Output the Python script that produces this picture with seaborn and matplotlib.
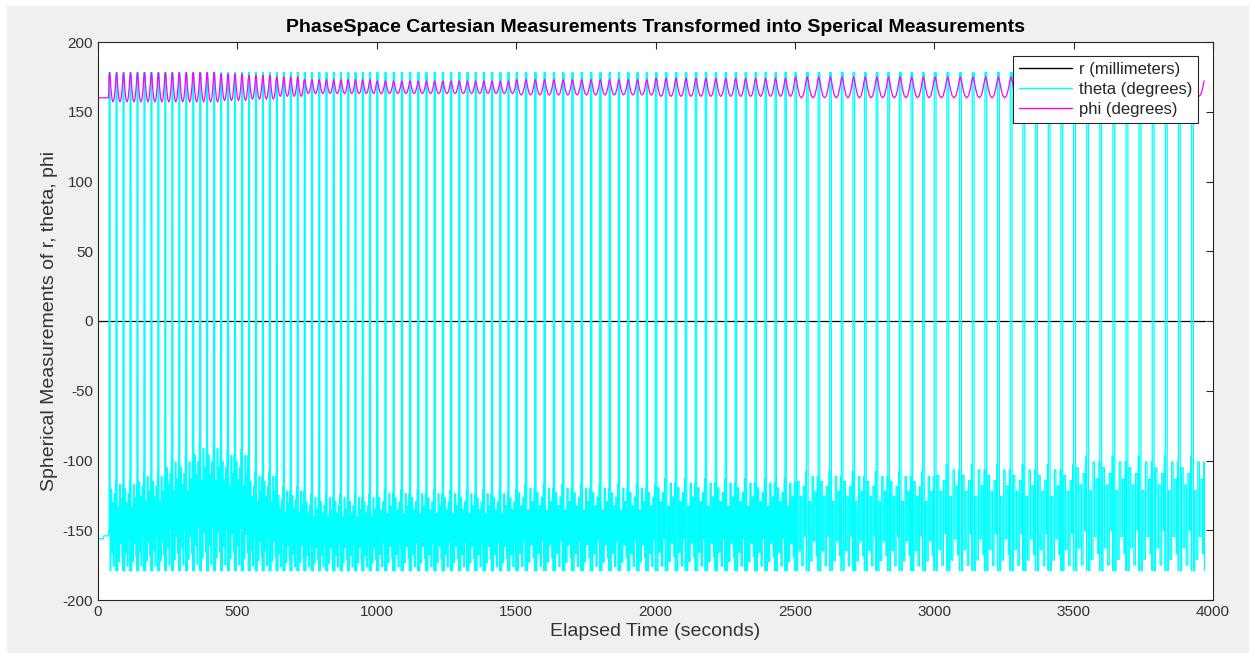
import numpy as np
import pandas as pd
import matplotlib
matplotlib.use('Agg')
import matplotlib.pyplot as plt
import seaborn as sns
from matplotlib.patches import Rectangle

# ---- values ----
# quiet start before the oscillation kicks in
start_time = [0, 20, 38]
start_theta = [-156, -154, -151]
start_phi = [160, 160, 160]

# segments of the run: start/end (s), phi cycles counted inside, envelopes (deg)
seg_start = [40, 140, 240, 340, 440, 540, 640, 740, 1000, 1500, 2000, 2500, 3000, 3500]
seg_end = [140, 240, 340, 440, 540, 640, 740, 1000, 1500, 2000, 2500, 3000, 3500, 3970]
seg_cycles = [4, 4, 4, 4, 4, 4, 4, 10, 17, 15, 14, 12, 11, 10]
phi_high = [178, 178, 178, 178, 177, 176, 175, 173, 172, 173, 174, 175, 175, 175]
phi_low = [157, 157, 157, 157, 158, 159, 161, 163, 163, 162, 161, 160, 160, 161]
theta_top = [-114, -108, -97, -87, -92, -108, -119, -124, -121, -117, -113, -108, -103, -97]
theta_floor = -179

# one cycle of theta: short trip over +180 (the wrap pair), then jumpy
# samples in the lower band (fraction of cycle -> fraction of band depth)
theta_up_frac = [0.00, 0.06, 0.12]
theta_up_val = [178, 172, 178]
theta_low_frac = [0.14, 0.24, 0.36, 0.48, 0.60, 0.72, 0.84, 0.93, 0.985]
theta_low_lvl_a = [0.00, 0.90, 0.20, 0.75, 0.05, 0.85, 0.35, 1.00, 0.00]
theta_low_lvl_b = [0.00, 0.70, 0.10, 0.95, 0.30, 0.80, 0.15, 0.95, 0.00]
phi_frac = [0.00, 0.06, 0.14, 0.26, 0.41, 0.56, 0.71, 0.86, 0.96]
phi_lvl = [0.90, 1.00, 0.85, 0.45, 0.10, 0.00, 0.10, 0.45, 0.80]

r_time = [0, 3970]
r_value = [0, 0]

# ---- build the polylines ----
t_theta, v_theta = list(start_time), list(start_theta)
t_phi, v_phi = list(start_time), list(start_phi)
for s0, s1, n, hi, lo, top in zip(seg_start, seg_end, seg_cycles, phi_high, phi_low, theta_top):
    step = (s1 - s0) / n
    for k in range(n):
        c0 = s0 + k * step
        lvl = theta_low_lvl_a if k % 2 == 0 else theta_low_lvl_b
        pts = list(zip(theta_up_frac, theta_up_val))
        pts += [(f, theta_floor + l * (top - theta_floor)) for f, l in zip(theta_low_frac, lvl)]
        for f, v in pts:
            t_theta.append(c0 + f * step)
            v_theta.append(v)
        for f, l in zip(phi_frac, phi_lvl):
            t_phi.append(c0 + f * step)
            v_phi.append(lo + l * (hi - lo))

df_r = pd.DataFrame({'time': r_time, 'value': r_value})
df_theta = pd.DataFrame({'time': t_theta, 'value': v_theta})
df_phi = pd.DataFrame({'time': t_phi, 'value': v_phi})

sns.set_style('white')
plt.rcParams['font.family'] = ['Liberation Sans', 'DejaVu Sans']
plt.rcParams['axes.unicode_minus'] = False

fig = plt.figure(figsize=(12.55, 6.59), dpi=100, facecolor='white')
fig.patches.append(Rectangle((7 / 1255, 7 / 659), 1241 / 1255, 646 / 659,
                             transform=fig.transFigure, color='#f0f0f0', zorder=-1))
ax = fig.add_axes([98 / 1255, 59 / 659, 1115 / 1255, 558 / 659])
ax.set_facecolor('white')

lw = 0.9
sns.lineplot(data=df_r, x='time', y='value', color='black', lw=lw, label='r (millimeters)',
             estimator=None, sort=False, ax=ax)
# theta samples are held until the next one, so jumps draw as vertical strokes
sns.lineplot(data=df_theta, x='time', y='value', color='#00ffff', lw=lw, label='theta (degrees)',
             estimator=None, sort=False, drawstyle='steps-post', ax=ax)
sns.lineplot(data=df_phi, x='time', y='value', color='#ff00ff', lw=lw, label='phi (degrees)',
             estimator=None, sort=False, ax=ax)

ax.set_xlim(0, 4000)
ax.set_ylim(-200, 200)
ax.set_xticks(np.arange(0, 4001, 500))
ax.set_yticks(np.arange(-200, 201, 50))
ax.tick_params(direction='in', length=5, width=0.8, colors='#262626', labelsize=11,
               top=True, right=True, labeltop=False, labelright=False)
ax.tick_params(axis='both', labelcolor='#333333')
for sp in ax.spines.values():
    sp.set_color('#262626')
    sp.set_linewidth(0.8)

ax.set_title('PhaseSpace Cartesian Measurements Transformed into Sperical Measurements',
             fontsize=14, fontweight='bold', color='black', pad=7)
ax.set_xlabel('Elapsed Time (seconds)', fontsize=14, color='#333333', labelpad=3)
ax.set_ylabel('Spherical Measurements of r, theta, phi', fontsize=14, color='#333333', labelpad=3)

leg = ax.legend(loc='upper right', bbox_to_anchor=(0.9865, 0.975), fontsize=12,
                frameon=True, fancybox=False, handlelength=3.2, handletextpad=0.4,
                borderpad=0.35, labelspacing=0.3, borderaxespad=0)
leg.get_frame().set_edgecolor('#262626')
leg.get_frame().set_linewidth(0.8)
leg.get_frame().set_alpha(1)
for line in leg.get_lines():
    line.set_linewidth(1.0)

fig.savefig('out.png', dpi=100, facecolor=fig.get_facecolor())
